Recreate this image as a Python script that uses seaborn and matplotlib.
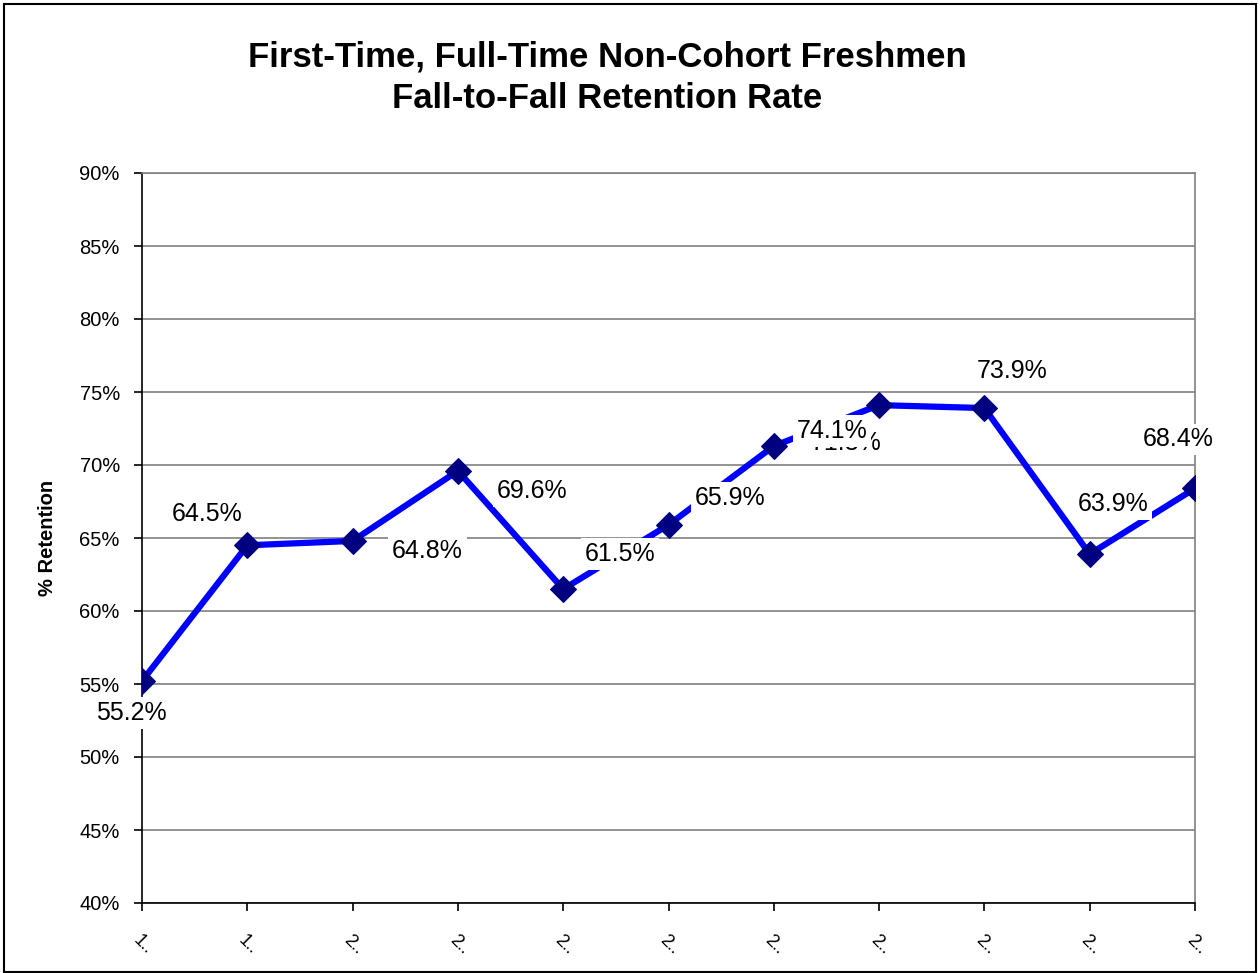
import matplotlib
matplotlib.use("Agg")
import matplotlib.pyplot as plt
import seaborn as sns
import pandas as pd
from matplotlib.patches import Rectangle
from matplotlib.ticker import FuncFormatter

years = ["1..", "1..", "2..", "2..", "2..", "2..", "2..", "2..", "2..", "2..", "2.."]
retention = [55.2, 64.5, 64.8, 69.6, 61.5, 65.9, 71.3, 74.1, 73.9, 63.9, 68.4]
# label offsets in pixels (dx, dy) relative to each point
label_offsets = [(-11, -32), (-40, 31), (75, -10), (74, -20), (57, 35), (62, 27),
                 (72, 3), (-47, -26), (28, 37), (23, 50), (-17, 49)]

sns.set_theme(style="white")
plt.rcParams['font.family'] = ['Liberation Sans', 'DejaVu Sans']
plt.rcParams.update({"text.color": "black", "axes.labelcolor": "black",
                     "xtick.color": "black", "ytick.color": "black"})

df = pd.DataFrame({"idx": range(len(retention)), "ret": retention})

fig = plt.figure(figsize=(12.6, 9.73), dpi=100)
ax = fig.add_axes([142/1260, 1-903/973, (1195-142)/1260, (903-173)/973])

sns.lineplot(data=df, x="idx", y="ret", ax=ax, color="#0000FF", linewidth=4.5,
             marker="D", markersize=13, markerfacecolor="#000080",
             markeredgecolor="#000080", zorder=3)

for i, v in enumerate(retention):
    dx, dy = label_offsets[i]
    ax.annotate(f"{v:.1f}%", (i, v), xytext=(dx, dy), textcoords="offset pixels",
                ha="center", va="center", fontsize=18, color="black", zorder=5,
                bbox=dict(boxstyle="square,pad=0.15", fc="white", ec="none"))

ax.set_ylim(40, 90)
ax.set_xlim(0, len(retention) - 1)
ax.set_yticks(range(40, 91, 5))
ax.yaxis.set_major_formatter(FuncFormatter(lambda v, p: f"{v:.0f}%"))
ax.set_xticks(range(len(years)))
ax.set_xticklabels(years, rotation=-45, ha="left", rotation_mode="anchor", fontsize=13)
ax.tick_params(axis="y", labelsize=14.5, length=6, width=1.2, direction="out", left=True, pad=10)
ax.tick_params(axis="x", length=6, width=1.2, direction="out", bottom=True, pad=15)
ax.grid(axis="y", color="#808080", linewidth=1.2)
ax.grid(axis="x", visible=False)
for s in ["top", "right"]:
    ax.spines[s].set_color("#808080")
    ax.spines[s].set_linewidth(1.2)
for s in ["left", "bottom"]:
    ax.spines[s].set_color("black")
    ax.spines[s].set_linewidth(1.2)
ax.set_xlabel("")
ax.set_ylabel("% Retention", fontsize=14.5, fontweight="bold", labelpad=16)

fig.text(607/1260, 1-57/973, "First-Time, Full-Time Non-Cohort Freshmen",
         ha="center", va="center", fontsize=25, fontweight="bold")
fig.text(607/1260, 1-98/973, "Fall-to-Fall Retention Rate",
         ha="center", va="center", fontsize=25, fontweight="bold")

fig.patches.append(Rectangle((4/1260, 1/973), 1252/1260, 968/973, transform=fig.transFigure,
                             fill=False, edgecolor="black", linewidth=1.5))

fig.savefig("out.png", dpi=100)
